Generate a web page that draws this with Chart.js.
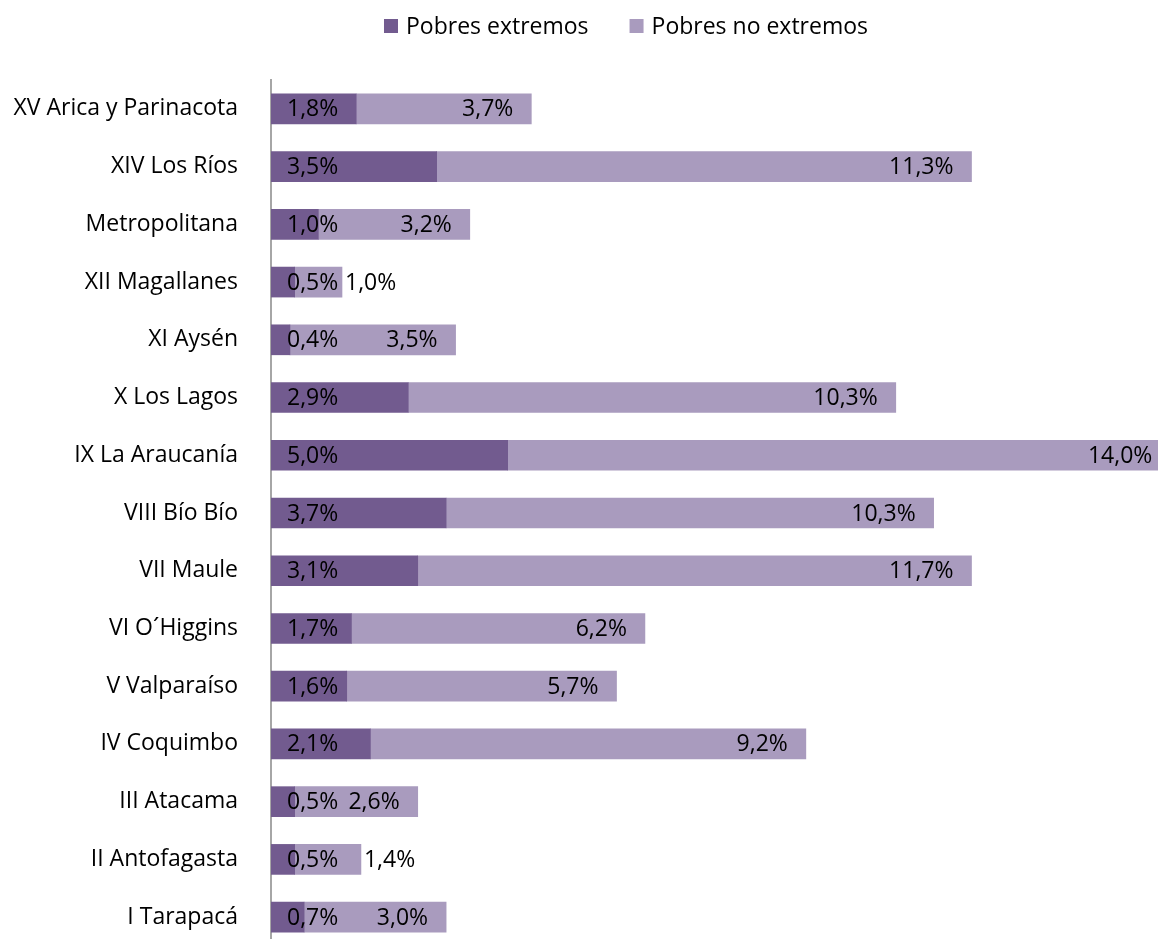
<!DOCTYPE html>
<html>
<head>
<meta charset="utf-8">
<script src="https://cdn.jsdelivr.net/npm/chart.js@4"></script>
<style>
  html, body { margin: 0; padding: 0; background: #fff; overflow: hidden; }
  #wrap { position: relative; width: 1158px; height: 946px; }
</style>
</head>
<body>
<div id="wrap"><canvas id="chart"></canvas></div>
<script>
const regions = [
	"XV Arica y Parinacota", "XIV Los Ríos", "Metropolitana", "XII Magallanes",
	"XI Aysén", "X Los Lagos", "IX La Araucanía", "VIII Bío Bío", "VII Maule",
	"VI O´Higgins", "V Valparaíso", "IV Coquimbo", "III Atacama",
	"II Antofagasta", "I Tarapacá"
];
const extremos = [1.8, 3.5, 1.0, 0.5, 0.4, 2.9, 5.0, 3.7, 3.1, 1.7, 1.6, 2.1, 0.5, 0.5, 0.7];
const noExtremos = [3.7, 11.3, 3.2, 1.0, 3.5, 10.3, 14.0, 10.3, 11.7, 6.2, 5.7, 9.2, 2.6, 1.4, 3.0];

const fontFamily = "'Open Sans', sans-serif";
const fontSize = 23;

function pct(v) {
	return v.toFixed(1).replace(".", ",") + "%";
}

// legend drawn by hand so the spacing matches Excel (box, small gap, wide gap between items)
const excelLegend = {
	id: "excelLegend",
	afterDraw(chart) {
		const ctx = chart.ctx;
		const sets = chart.data.datasets;
		ctx.save();
		ctx.font = fontSize + "px " + fontFamily;
		ctx.textBaseline = "middle";
		ctx.textAlign = "left";
		let total = 0;
		sets.forEach((ds, i) => {
			total += 14 + 8 + ctx.measureText(ds.label).width + (i > 0 ? 41 : 0);
		});
		let cx = 626 - total / 2;
		const cy = 26;
		sets.forEach((ds) => {
			ctx.fillStyle = ds.backgroundColor;
			ctx.fillRect(cx, cy - 7, 14, 14);
			cx += 22;
			ctx.fillStyle = "#000";
			ctx.fillText(ds.label, cx, cy + 1);
			cx += ctx.measureText(ds.label).width + 41;
		});
		ctx.restore();
	}
};

// value labels like Excel: first series at the base, second at inside end (or just outside if it doesn't fit)
const barLabels = {
	id: "barLabels",
	afterDatasetsDraw(chart) {
		const ctx = chart.ctx;
		const x = chart.scales.x;
		ctx.save();
		ctx.font = fontSize + "px " + fontFamily;
		ctx.fillStyle = "#000";
		ctx.textBaseline = "middle";
		chart.getDatasetMeta(0).data.forEach((bar, i) => {
			ctx.textAlign = "left";
			ctx.fillText(pct(extremos[i]), x.getPixelForValue(0) + 16, bar.y + 1);
		});
		chart.getDatasetMeta(1).data.forEach((bar, i) => {
			const txt = pct(noExtremos[i]);
			const w = ctx.measureText(txt).width;
			const start = x.getPixelForValue(extremos[i]);
			const end = x.getPixelForValue(extremos[i] + noExtremos[i]);
			if (end - start >= w + 22) {
				ctx.textAlign = "right";
				ctx.fillText(txt, end - 18, bar.y + 1);
			} else {
				ctx.textAlign = "left";
				ctx.fillText(txt, end + 3, bar.y + 1);
			}
		});
		ctx.restore();
	}
};

new Chart(document.getElementById("chart"), {
	type: "bar",
	data: {
		labels: regions,
		datasets: [
			{
				label: "Pobres extremos",
				data: extremos,
				backgroundColor: "#725b8f",
				barThickness: 30
			},
			{
				label: "Pobres no extremos",
				data: noExtremos,
				backgroundColor: "#a99bbe",
				barThickness: 30
			}
		]
	},
	options: {
		indexAxis: "y",
		responsive: true,
		maintainAspectRatio: false,
		animation: false,
		layout: {
			padding: { top: 80, left: 0, right: 0, bottom: 0 }
		},
		plugins: {
			legend: { display: false },
			tooltip: { enabled: false }
		},
		scales: {
			x: {
				stacked: true,
				display: false,
				min: 0,
				max: 18.74
			},
			y: {
				stacked: true,
				afterFit: function(scale) {
					scale.width = 271;
					// plot runs right to the bottom edge, no room kept for the last label
					scale.paddingTop = 0;
					scale.paddingBottom = 0;
				},
				grid: { display: false },
				border: { display: true, color: "#a6a6a6", width: 2 },
				ticks: {
					padding: 25,
					color: "#000",
					font: { family: fontFamily, size: fontSize }
				}
			}
		}
	},
	plugins: [excelLegend, barLabels]
});
</script>
</body>
</html>
